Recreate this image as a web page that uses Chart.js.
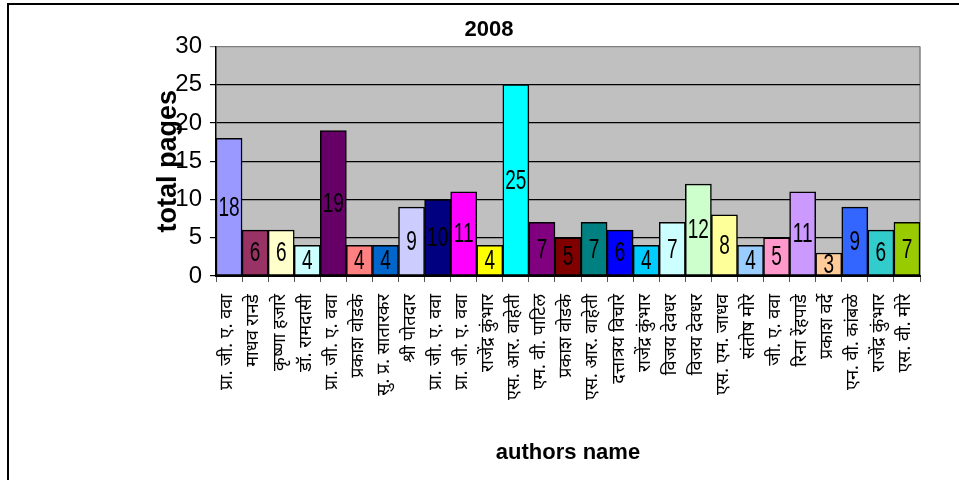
<!DOCTYPE html>
<html lang="mr">
<head>
<meta charset="utf-8">
<meta name="viewport" content="width=device-width, initial-scale=1">
<title>2008 - total pages</title>
<style>
body { margin: 0; background: #fff; }
#box {
    position: absolute;
    left: 7px;
    top: 3px;
    width: 950px;
    height: 475px;
    border-top: 2px solid #000;
    border-left: 2px solid #000;
}
</style>
</head>
<body>
<div id="box">
<canvas id="canvas"></canvas>
</div>
<script src="https://cdn.jsdelivr.net/npm/chart.js"></script>
<script>

let AUTHORS = [
    "प्रा. जी. ए. ववा",
    "माधव रानडे",
    "कृष्णा हजारे",
    "डॉ. रामदासी",
    "प्रा. जी. ए. ववा",
    "प्रकाश वोडके",
    "सु. प्र. सातारकर",
    "श्री पोतदार",
    "प्रा. जी. ए. ववा",
    "प्रा. जी. ए. ववा",
    "राजेंद्र कुंभार",
    "एस. आर. वाहेती",
    "एम. वी. पाटिल",
    "प्रकाश वोडके",
    "एस. आर. वाहेती",
    "दत्तात्रय विचारे",
    "राजेंद्र कुंभार",
    "विजय देवधर",
    "विजय देवधर",
    "एस. एम. जाधव",
    "संतोष मोरे",
    "जी. ए. ववा",
    "रिना रेंहपाडे",
    "प्रकाश वर्दे",
    "एन. वी. कांबळे",
    "राजेंद्र कुंभार",
    "एस. वी. मोरे",
]

let PAGES = [18, 6, 6, 4, 19, 4, 4, 9, 10, 11, 4, 25, 7, 5, 7, 6, 4, 7, 12, 8, 4, 5, 11, 3, 9, 6, 7]

let COLORS = [
    "#9999FF", "#993366", "#FFFFCC", "#CCFFFF", "#660066", "#FF8080", "#0066CC",
    "#CCCCFF", "#000080", "#FF00FF", "#FFFF00", "#00FFFF", "#800080", "#800000",
    "#008080", "#0000FF", "#00CCFF", "#CCFFFF", "#CCFFCC", "#FFFF99", "#99CCFF",
    "#FF99CC", "#CC99FF", "#FFCC99", "#3366FF", "#33CCCC", "#99CC00",
]

let Y_MAX = 30
let Y_STEP = 5

let SANS = "'Liberation Sans', Arial, sans-serif"
let DEVA = "'Noto Sans Devanagari', 'Lohit Devanagari', 'FreeSans', 'Noto Sans', sans-serif"

// grey plot area like the old excel charts
let plotArea = {
    id: "plotArea",
    beforeDraw(chart) {
        let a = chart.chartArea
        let c = chart.ctx
        c.save()
        c.fillStyle = "#C0C0C0"
        c.fillRect(a.left, a.top, a.right - a.left, a.bottom - a.top)
        c.strokeStyle = "#808080"
        c.lineWidth = 1.5
        c.beginPath()
        c.moveTo(a.right, a.top)
        c.lineTo(a.right, a.bottom)
        c.stroke()
        c.restore()
    }
}

// value written in the middle of each bar, squeezed like arial narrow
let barValues = {
    id: "barValues",
    afterDatasetsDraw(chart) {
        let c = chart.ctx
        let meta = chart.getDatasetMeta(0)
        c.save()
        c.font = "28px " + SANS
        c.fillStyle = "#000"
        c.textAlign = "center"
        c.textBaseline = "middle"
        meta.data.forEach((bar, i) => {
            c.save()
            c.translate(bar.x, (bar.y + bar.base) / 2 + 1)
            c.scale(0.68, 1)
            c.fillText(PAGES[i], 0, 0)
            c.restore()
        })
        c.restore()
    }
}

let ctx = document.getElementById("canvas")

let chart = new Chart(ctx, {
    type: "bar",
    data: {
        labels: AUTHORS,
        datasets: [
            {
                label: "total pages",
                data: PAGES,
                backgroundColor: COLORS,
                borderColor: "#000",
                borderWidth: 1.5,
                borderSkipped: false,
                barPercentage: 1,
                categoryPercentage: 1,
            },
        ]
    },
    options: {
        responsive: true,
        maintainAspectRatio: false,
        animation: false,
        events: [],
        layout: {
            padding: { left: 49, right: 39, top: 0, bottom: 0 }
        },
        plugins: {
            legend: { display: false },
            tooltip: { enabled: false },
            title: {
                display: true,
                text: "2008",
                color: "#000",
                font: { family: SANS, size: 22, weight: "bold" },
                padding: { top: 12, bottom: 3 },
            },
        },
        scales: {
            x: {
                grid: {
                    offset: true,
                    drawOnChartArea: false,
                    color: "#555",
                    tickLength: 6,
                },
                border: { color: "#000", width: 2 },
                ticks: {
                    color: "#000",
                    autoSkip: false,
                    minRotation: 90,
                    maxRotation: 90,
                    padding: 12,
                    font: { family: DEVA, size: 18 },
                },
                title: {
                    display: true,
                    text: "authors name",
                    color: "#000",
                    font: { family: SANS, size: 22, weight: "bold" },
                    padding: { top: 0, bottom: 14 },
                },
                afterFit: (s) => { s.height = 204 },
            },
            y: {
                min: 0,
                max: Y_MAX,
                grid: {
                    color: (c) => c.tick.value == Y_MAX ? "#808080" : "#000",
                    lineWidth: 1.2,
                    tickLength: 6,
                },
                border: { color: "#000", width: 1.5 },
                ticks: {
                    stepSize: Y_STEP,
                    color: "#000",
                    padding: 8,
                    font: { family: SANS, size: 24 },
                },
                title: {
                    display: true,
                    text: "total pages",
                    color: "#000",
                    font: { family: SANS, size: 27, weight: "bold" },
                    padding: { top: 94, bottom: 0 },
                },
                afterFit: (s) => { s.width = 158 },
            }
        }
    },
    plugins: [plotArea, barValues],
})

</script>
</body>
</html>
